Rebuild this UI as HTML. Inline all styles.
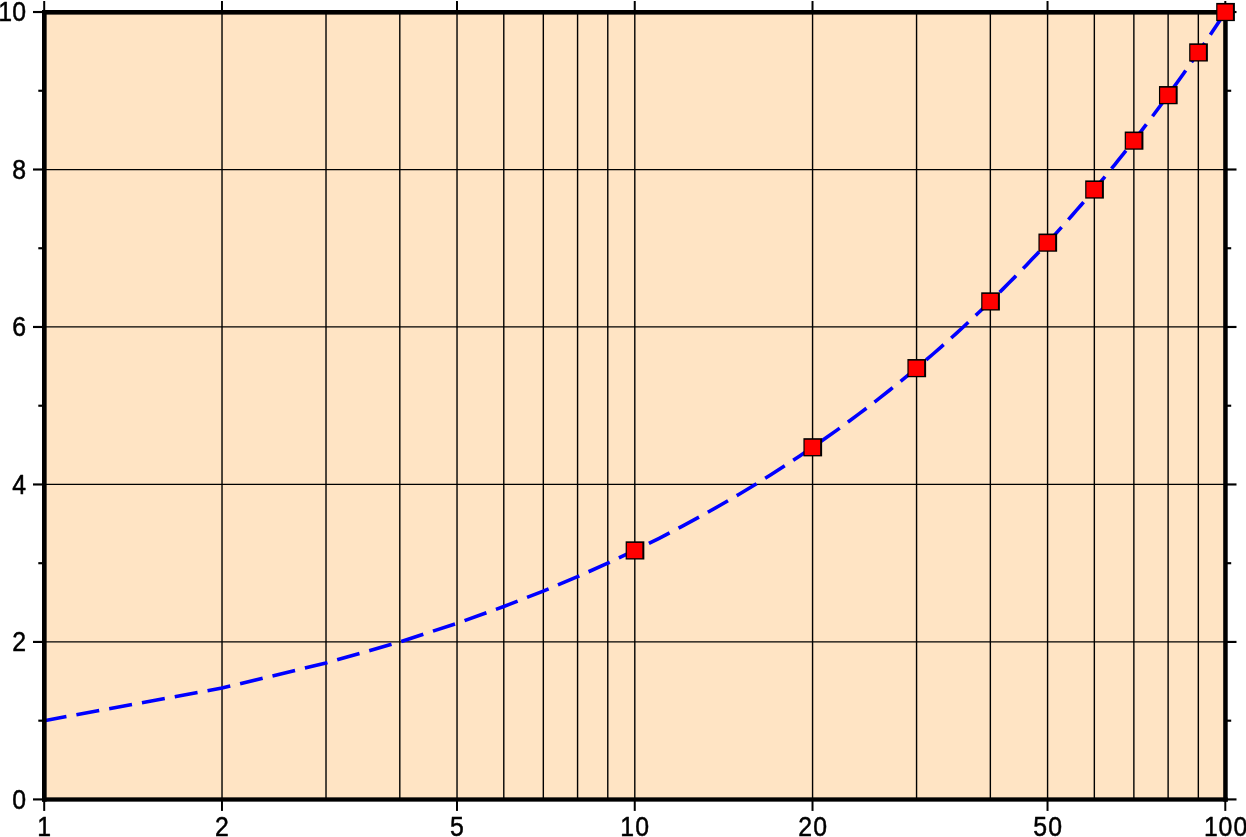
<!DOCTYPE html>
<html lang="en">
<head>
<meta charset="utf-8">
<title>Logarithmic transformation</title>
<style>
html,body{margin:0;padding:0;background:#fff;}
body{width:1246px;height:837px;overflow:hidden;}
svg{display:block;}
text{font-family:"Liberation Sans",sans-serif;font-size:27px;fill:#000;stroke:#000;stroke-width:0.5px;stroke-linejoin:round;}
</style>
</head>
<body>
<svg width="1246" height="837" viewBox="0 0 1246 837">
<defs><clipPath id="plotclip"><rect x="44.2" y="12.02" width="1181.1" height="787.4"/></clipPath></defs>
<rect x="0" y="0" width="1246" height="837" fill="#ffffff"/>
<rect x="44.2" y="12.02" width="1181.1" height="787.4" fill="#ffe4c4"/>
<g stroke="#000" stroke-width="1.4" fill="none">
<line x1="222.02" y1="12.02" x2="222.02" y2="799.42"/>
<line x1="326.01" y1="12.02" x2="326.01" y2="799.42"/>
<line x1="399.8" y1="12.02" x2="399.8" y2="799.42"/>
<line x1="457.03" y1="12.02" x2="457.03" y2="799.42"/>
<line x1="503.79" y1="12.02" x2="503.79" y2="799.42"/>
<line x1="543.32" y1="12.02" x2="543.32" y2="799.42"/>
<line x1="577.57" y1="12.02" x2="577.57" y2="799.42"/>
<line x1="607.78" y1="12.02" x2="607.78" y2="799.42"/>
<line x1="634.8" y1="12.02" x2="634.8" y2="799.42"/>
<line x1="812.57" y1="12.02" x2="812.57" y2="799.42"/>
<line x1="916.56" y1="12.02" x2="916.56" y2="799.42"/>
<line x1="990.35" y1="12.02" x2="990.35" y2="799.42"/>
<line x1="1047.58" y1="12.02" x2="1047.58" y2="799.42"/>
<line x1="1094.34" y1="12.02" x2="1094.34" y2="799.42"/>
<line x1="1133.87" y1="12.02" x2="1133.87" y2="799.42"/>
<line x1="1168.12" y1="12.02" x2="1168.12" y2="799.42"/>
<line x1="1198.33" y1="12.02" x2="1198.33" y2="799.42"/>
</g>
<g stroke="#000" stroke-width="1.25" fill="none">
<line x1="44.2" y1="641.94" x2="1225.3" y2="641.94"/>
<line x1="44.2" y1="484.46" x2="1225.3" y2="484.46"/>
<line x1="44.2" y1="326.98" x2="1225.3" y2="326.98"/>
<line x1="44.2" y1="169.5" x2="1225.3" y2="169.5"/>
</g>
<polyline clip-path="url(#plotclip)" points="44.2,720.68 221.97,688.06 325.96,663.04 399.75,641.94 456.98,623.35 503.74,606.55 543.27,591.09 577.52,576.71 607.73,563.2 634.75,550.42 659.19,538.27 681.51,526.66 702.04,515.52 721.05,504.8 738.74,494.46 755.29,484.46 770.84,474.77 785.5,465.35 799.37,456.2 812.52,447.28 825.04,438.59 836.97,430.1 848.37,421.8 859.28,413.67 869.75,405.72 879.81,397.92 889.49,390.27 898.82,382.77 907.82,375.39 916.51,368.14 924.92,361.01 933.07,354 940.96,347.09 948.61,340.29 956.05,333.59 963.27,326.98 970.3,320.46 977.14,314.03 983.8,307.69 990.3,301.42 996.63,295.24 1002.81,289.13 1008.84,283.09 1014.74,277.12 1020.5,271.22 1026.14,265.38 1031.66,259.61 1037.06,253.89 1042.35,248.24 1047.53,242.64 1052.61,237.1 1057.59,231.62 1062.47,226.18 1067.27,220.8 1071.97,215.47 1076.59,210.18 1081.13,204.95 1085.59,199.75 1089.98,194.61 1094.29,189.5 1098.53,184.44 1102.7,179.42 1106.8,174.44 1110.84,169.5 1114.82,164.6 1118.73,159.73 1122.59,154.91 1126.39,150.11 1130.13,145.36 1133.82,140.63 1137.46,135.94 1141.05,131.29 1144.59,126.67 1148.07,122.07 1151.52,117.51 1154.91,112.98 1158.27,108.48 1161.58,104.01 1164.84,99.56 1168.07,95.15 1171.26,90.76 1174.4,86.4 1177.51,82.06 1180.58,77.76 1183.62,73.47 1186.62,69.22 1189.58,64.98 1192.51,60.77 1195.41,56.59 1198.28,52.43 1201.11,48.29 1203.91,44.17 1206.69,40.08 1209.43,36.01 1212.14,31.96 1214.83,27.93 1217.49,23.92 1220.12,19.93 1222.72,15.97 1225.3,12.02" fill="none" stroke="#0000ff" stroke-width="3.6" stroke-dasharray="23.2 10.13" stroke-dashoffset="0.6" stroke-linecap="butt" stroke-linejoin="miter"/>
<g stroke="#000" stroke-width="2" fill="none">
<line x1="44.2" y1="799.42" x2="44.2" y2="810.92"/>
<line x1="44.2" y1="12.02" x2="44.2" y2="1.02"/>
<line x1="221.97" y1="799.42" x2="221.97" y2="810.92"/>
<line x1="221.97" y1="12.02" x2="221.97" y2="1.02"/>
<line x1="456.98" y1="799.42" x2="456.98" y2="810.92"/>
<line x1="456.98" y1="12.02" x2="456.98" y2="1.02"/>
<line x1="634.75" y1="799.42" x2="634.75" y2="810.92"/>
<line x1="634.75" y1="12.02" x2="634.75" y2="1.02"/>
<line x1="812.52" y1="799.42" x2="812.52" y2="810.92"/>
<line x1="812.52" y1="12.02" x2="812.52" y2="1.02"/>
<line x1="1047.53" y1="799.42" x2="1047.53" y2="810.92"/>
<line x1="1047.53" y1="12.02" x2="1047.53" y2="1.02"/>
<line x1="1225.3" y1="799.42" x2="1225.3" y2="810.92"/>
<line x1="1225.3" y1="12.02" x2="1225.3" y2="1.02"/>
</g>
<g stroke="#000" stroke-width="2.15" fill="none">
<line x1="44.2" y1="799.42" x2="33" y2="799.42"/>
<line x1="1225.3" y1="799.42" x2="1236.5" y2="799.42"/>
<line x1="44.2" y1="720.68" x2="38.3" y2="720.68"/>
<line x1="1225.3" y1="720.68" x2="1231.2" y2="720.68"/>
<line x1="44.2" y1="641.94" x2="33" y2="641.94"/>
<line x1="1225.3" y1="641.94" x2="1236.5" y2="641.94"/>
<line x1="44.2" y1="563.2" x2="38.3" y2="563.2"/>
<line x1="1225.3" y1="563.2" x2="1231.2" y2="563.2"/>
<line x1="44.2" y1="484.46" x2="33" y2="484.46"/>
<line x1="1225.3" y1="484.46" x2="1236.5" y2="484.46"/>
<line x1="44.2" y1="405.72" x2="38.3" y2="405.72"/>
<line x1="1225.3" y1="405.72" x2="1231.2" y2="405.72"/>
<line x1="44.2" y1="326.98" x2="33" y2="326.98"/>
<line x1="1225.3" y1="326.98" x2="1236.5" y2="326.98"/>
<line x1="44.2" y1="248.24" x2="38.3" y2="248.24"/>
<line x1="1225.3" y1="248.24" x2="1231.2" y2="248.24"/>
<line x1="44.2" y1="169.5" x2="33" y2="169.5"/>
<line x1="1225.3" y1="169.5" x2="1236.5" y2="169.5"/>
<line x1="44.2" y1="90.76" x2="38.3" y2="90.76"/>
<line x1="1225.3" y1="90.76" x2="1231.2" y2="90.76"/>
<line x1="44.2" y1="12.02" x2="33" y2="12.02"/>
<line x1="1225.3" y1="12.02" x2="1236.5" y2="12.02"/>
</g>
<g fill="#000">
<rect x="42" y="10" width="1185.7" height="4.6"/>
<rect x="42" y="797.35" width="1185.7" height="4.3"/>
<rect x="42" y="10" width="4.65" height="791.65"/>
<rect x="1223.2" y="10" width="4.5" height="791.65"/>
</g>
<g>
<text transform="translate(11.7,809.17) scale(0.92,1.025)" x="0.57" y="0">0</text>
<text transform="translate(11.7,650.69) scale(0.92,1.025)" x="0.57" y="0">2</text>
<text transform="translate(11.7,494.21) scale(0.92,1.025)" x="0.57" y="0">4</text>
<text transform="translate(11.7,336.13) scale(0.92,1.025)" x="0.57" y="0">6</text>
<text transform="translate(11.7,179.25) scale(0.92,1.025)" x="0.57" y="0">8</text>
<text transform="translate(-3.3,21.37) scale(0.92,1.025)" x="1.76 16.87" y="0">10</text>
</g>
<g>
<text transform="translate(36.8,835.7) scale(0.92,1.025)" x="0.46" y="0">1</text>
<text transform="translate(214.57,835.7) scale(0.92,1.025)" x="0.57" y="0">2</text>
<text transform="translate(449.58,835.7) scale(0.92,1.025)" x="0.57" y="0">5</text>
<text transform="translate(619.85,835.7) scale(0.92,1.025)" x="0.57 16.87" y="0">10</text>
<text transform="translate(797.62,835.7) scale(0.92,1.025)" x="0.57 16.87" y="0">20</text>
<text transform="translate(1032.63,835.7) scale(0.92,1.025)" x="0.57 16.87" y="0">50</text>
<text transform="translate(1202.9,835.7) scale(0.92,1.025)" x="1.22 16.87 33.17" y="0">100</text>
</g>
<g>
<rect x="625.65" y="541.32" width="18.7" height="18.2" fill="#000"/><rect x="626.85" y="542.92" width="15.5" height="15.3" fill="#ff0000"/>
<rect x="803.42" y="438.18" width="18.7" height="18.2" fill="#000"/><rect x="804.62" y="439.78" width="15.5" height="15.3" fill="#ff0000"/>
<rect x="907.41" y="359.04" width="18.7" height="18.2" fill="#000"/><rect x="908.61" y="360.64" width="15.5" height="15.3" fill="#ff0000"/>
<rect x="981.2" y="292.32" width="18.7" height="18.2" fill="#000"/><rect x="982.4" y="293.92" width="15.5" height="15.3" fill="#ff0000"/>
<rect x="1038.43" y="233.54" width="18.7" height="18.2" fill="#000"/><rect x="1039.63" y="235.14" width="15.5" height="15.3" fill="#ff0000"/>
<rect x="1085.19" y="180.4" width="18.7" height="18.2" fill="#000"/><rect x="1086.39" y="182" width="15.5" height="15.3" fill="#ff0000"/>
<rect x="1124.72" y="131.53" width="18.7" height="18.2" fill="#000"/><rect x="1125.92" y="133.13" width="15.5" height="15.3" fill="#ff0000"/>
<rect x="1158.97" y="86.05" width="18.7" height="18.2" fill="#000"/><rect x="1160.17" y="87.65" width="15.5" height="15.3" fill="#ff0000"/>
<rect x="1189.18" y="43.33" width="18.7" height="18.2" fill="#000"/><rect x="1190.38" y="44.93" width="15.5" height="15.3" fill="#ff0000"/>
<rect x="1216.2" y="2.92" width="18.7" height="18.2" fill="#000"/><rect x="1217.4" y="4.52" width="15.5" height="15.3" fill="#ff0000"/>
</g>
</svg>
</body>
</html>
